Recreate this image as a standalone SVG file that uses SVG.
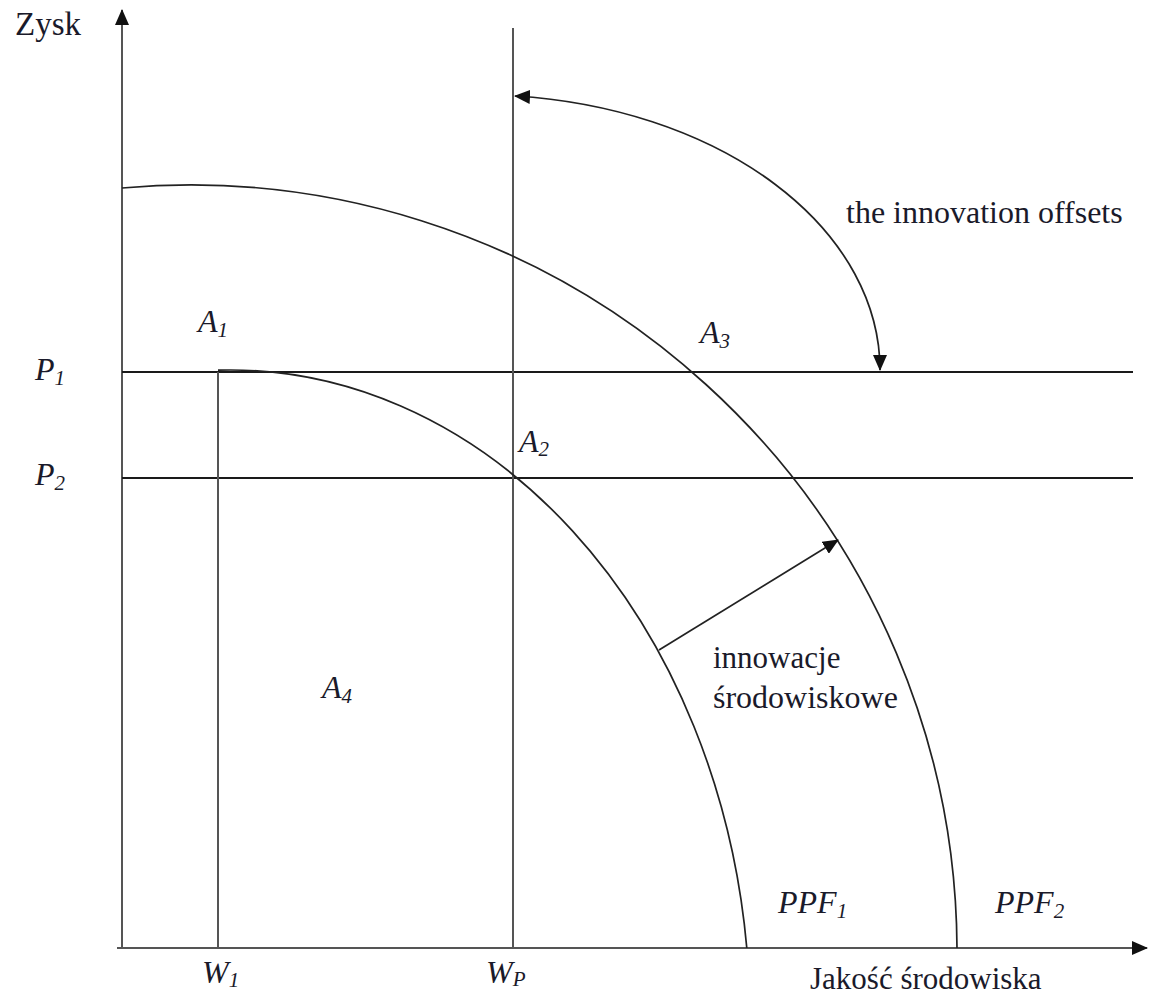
<svg xmlns="http://www.w3.org/2000/svg" width="1150" height="998" viewBox="0 0 1150 998">
<style>
  .ln { stroke:#1a1a1a; stroke-width:1.8; fill:none; }
  .gl { stroke:#555; stroke-width:2; fill:none; }
  .cv { stroke:#222; stroke-width:1.7; fill:none; }
  .t { font-family:"Liberation Serif","Times New Roman",serif; font-size:31px; fill:#1a1a2a; }
  .it { font-family:"Liberation Serif","Times New Roman",serif; font-size:32px; font-style:italic; fill:#1a1a2a; }
  .sub { font-size:21px; }
</style>
<defs>
  <marker id="ah" markerWidth="16" markerHeight="14" refX="15" refY="7" orient="auto-start-reverse" markerUnits="userSpaceOnUse">
    <path d="M0,0 L16,7 L0,14 z" fill="#111"/>
  </marker>
</defs>
<rect width="1150" height="998" fill="#fff"/>
<g id="axes">
  <line class="gl" x1="122" y1="948" x2="122" y2="10" marker-end="url(#ah)"/>
  <line class="gl" x1="117" y1="948" x2="1147" y2="948" marker-end="url(#ah)"/>
</g>
<g id="guides">
  <line id="p1-line" class="ln" x1="122" y1="372" x2="1133" y2="372"/>
  <line id="p2-line" class="ln" x1="122" y1="478" x2="1133" y2="478"/>
  <line id="w1-line" class="gl" x1="218" y1="372" x2="218" y2="948"/>
  <line id="wp-line" class="gl" x1="513" y1="28" x2="513" y2="948"/>
</g>
<g id="ppf2">
  <path class="cv" d="M122,188 A767 767 0 0 1 957,948"/>
</g>
<g id="ppf1">
  <path class="cv" d="M218,370.2 A520 650 0 0 1 746.8,948"/>
</g>
<g id="connectors">
  <path class="cv" d="M515,96 A400 275 0 0 1 880,370" marker-start="url(#ah)" marker-end="url(#ah)"/>
  <line class="cv" x1="659" y1="650" x2="838" y2="540" marker-end="url(#ah)"/>
</g>
<g id="labels">
  <text class="t" x="15" y="35" style="font-size:33px">Zysk</text>
  <text class="t" x="846" y="223" style="font-size:32px">the innovation offsets</text>
  <text class="it" x="198" y="332">A<tspan class="sub" dy="5">1</tspan></text>
  <text class="it" x="700" y="343">A<tspan class="sub" dy="5">3</tspan></text>
  <text class="it" x="519" y="452">A<tspan class="sub" dy="4">2</tspan></text>
  <text class="it" x="35" y="380">P<tspan class="sub" dy="5">1</tspan></text>
  <text class="it" x="35" y="485">P<tspan class="sub" dy="5">2</tspan></text>
  <text class="it" x="322" y="698">A<tspan class="sub" dy="5">4</tspan></text>
  <text class="t" x="713" y="668">innowacje</text>
  <text class="t" x="713" y="708" style="font-size:32px">środowiskowe</text>
  <text class="it" x="778" y="913">PPF<tspan class="sub" dy="5">1</tspan></text>
  <text class="it" x="995" y="913">PPF<tspan class="sub" dy="5">2</tspan></text>
  <text class="it" x="202" y="983">W<tspan class="sub" dy="4">1</tspan></text>
  <text class="it" x="486" y="983">W<tspan class="sub" dy="3">P</tspan></text>
  <text class="t" x="810" y="989">Jakość środowiska</text>
</g>
</svg>
